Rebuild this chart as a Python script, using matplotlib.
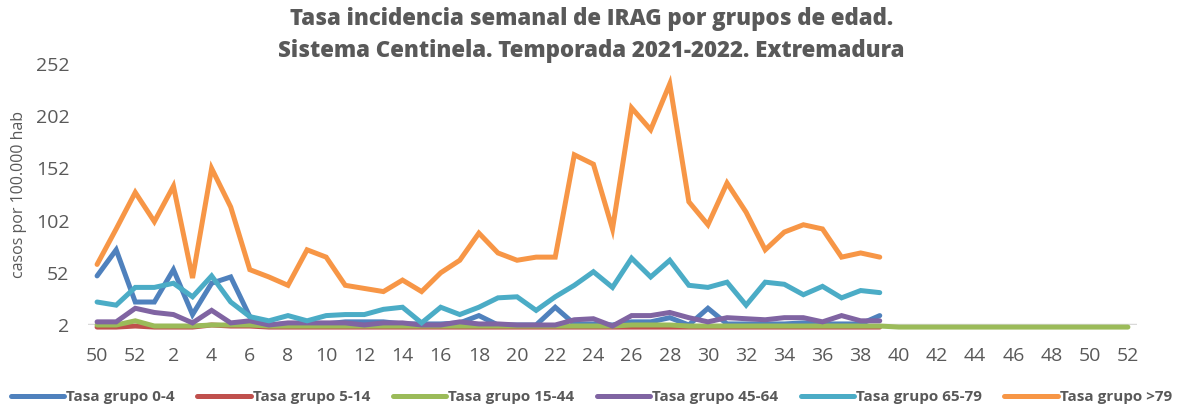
import matplotlib
matplotlib.use("Agg")
import matplotlib.pyplot as plt
import numpy as np

weeks = [50, 51, 52] + list(range(1, 53))

tasa_0_4 = [49, 74, 24, 24, 55, 12, 42, 48, 10, 2, 3, 3, 3, 5, 5, 5, 3, 3, 3, 4, 11,
            2, 2, 2, 19, 3, 3, 2, 5, 5, 9, 2, 18, 3, 3, 3, 3, 4, 3, 3, 3, 11]
tasa_5_14 = [0, 0, 1, 0, 0, 0, 2, 1, 1, 0, 0, 0, 0, 0, 0, 0, 0, 0, 0, 0, 0,
             0, 0, 0, 0, 0, 0, 0, 0, 0, 0, 0, 0, 0, 0, 0, 0, 0, 0, 0, 0, 0]
tasa_15_44 = [2, 2, 6, 1, 1, 1, 2, 2, 2, 1, 1, 1, 1, 1, 1, 1, 1, 1, 1, 1, 1,
              1, 1, 1, 1, 1, 1, 1, 2, 2, 2, 1, 1, 1, 1, 1, 1, 1, 1, 1, 1, 1,
              0, 0, 0, 0, 0, 0, 0, 0, 0, 0, 0, 0, 0]
tasa_45_64 = [5, 5, 18, 14, 12, 4, 16, 4, 6, 2, 4, 4, 4, 4, 2, 4, 4, 2, 2, 5, 3,
              3, 2, 2, 2, 7, 8, 1, 11, 11, 14, 9, 5, 9, 8, 7, 9, 9, 5, 11, 6, 6]
tasa_65_79 = [24, 21, 38, 38, 42, 29, 49, 24, 10, 6, 11, 6, 11, 12, 12, 17, 19, 4, 19, 12, 19,
              28, 29, 16, 29, 40, 53, 38, 66, 48, 64, 40, 38, 43, 21, 43, 41, 31, 39, 28, 35, 33]
tasa_79 = [60, 94, 129, 101, 135, 47, 152, 115, 55, 48, 40, 74, 67, 40, 37, 34, 45, 34, 52, 64, 90,
           71, 64, 67, 67, 165, 156, 94, 210, 189, 233, 120, 98, 138, 110, 74, 91, 98, 94, 67, 71, 67]

series = [
    ("Tasa grupo 0-4", tasa_0_4, "#4F81BD"),
    ("Tasa grupo 5-14", tasa_5_14, "#C0504D"),
    ("Tasa grupo 15-44", tasa_15_44, "#9BBB59"),
    ("Tasa grupo 45-64", tasa_45_64, "#8064A2"),
    ("Tasa grupo 65-79", tasa_65_79, "#4BACC6"),
    ("Tasa grupo >79", tasa_79, "#F79646"),
]

text_color = "#595959"
plt.rcParams["font.family"] = ["Open Sans", "DejaVu Sans"]

fig = plt.figure(figsize=(11.83, 4.07), dpi=100)
ax = fig.add_axes([0.074, 0.2015, 0.8875, 0.6413])

ax.axhline(2, color="#D9D9D9", linewidth=2.5, zorder=1)
for label, values, color in series:
    ax.plot(np.arange(len(values)), values, color=color, linewidth=3.6,
            solid_capstyle="round", solid_joinstyle="miter", label=label,
            clip_on=False, zorder=2)

ax.set_xlim(-0.5, len(weeks) - 0.5)
ax.set_ylim(2, 252)
ax.set_yticks(np.arange(2, 253, 50))
ax.set_xticks(np.arange(0, len(weeks), 2))
ax.set_xticklabels([str(w) for w in weeks[::2]])
for side in ax.spines.values():
    side.set_visible(False)
ax.tick_params(length=0, labelsize=14, labelcolor=text_color)
ax.tick_params(axis="x", pad=16)
ax.tick_params(axis="y", pad=13)
ax.set_ylabel("casos por 100.000 hab", fontsize=11.5, color=text_color, labelpad=6)

fig.suptitle("Tasa incidencia semanal de IRAG por grupos de edad.\n"
             "Sistema Centinela. Temporada 2021-2022. Extremadura",
             fontsize=16, fontweight=800, color=text_color, y=0.982,
             linespacing=1.4)

fig.legend(loc="lower center", bbox_to_anchor=(0.5, -0.027), ncol=6, frameon=False,
           handlelength=3.5, handletextpad=0.15, columnspacing=1.45,
           prop={"size": 11, "weight": "bold"}, labelcolor=text_color)

fig.savefig("out.png", dpi=100)
